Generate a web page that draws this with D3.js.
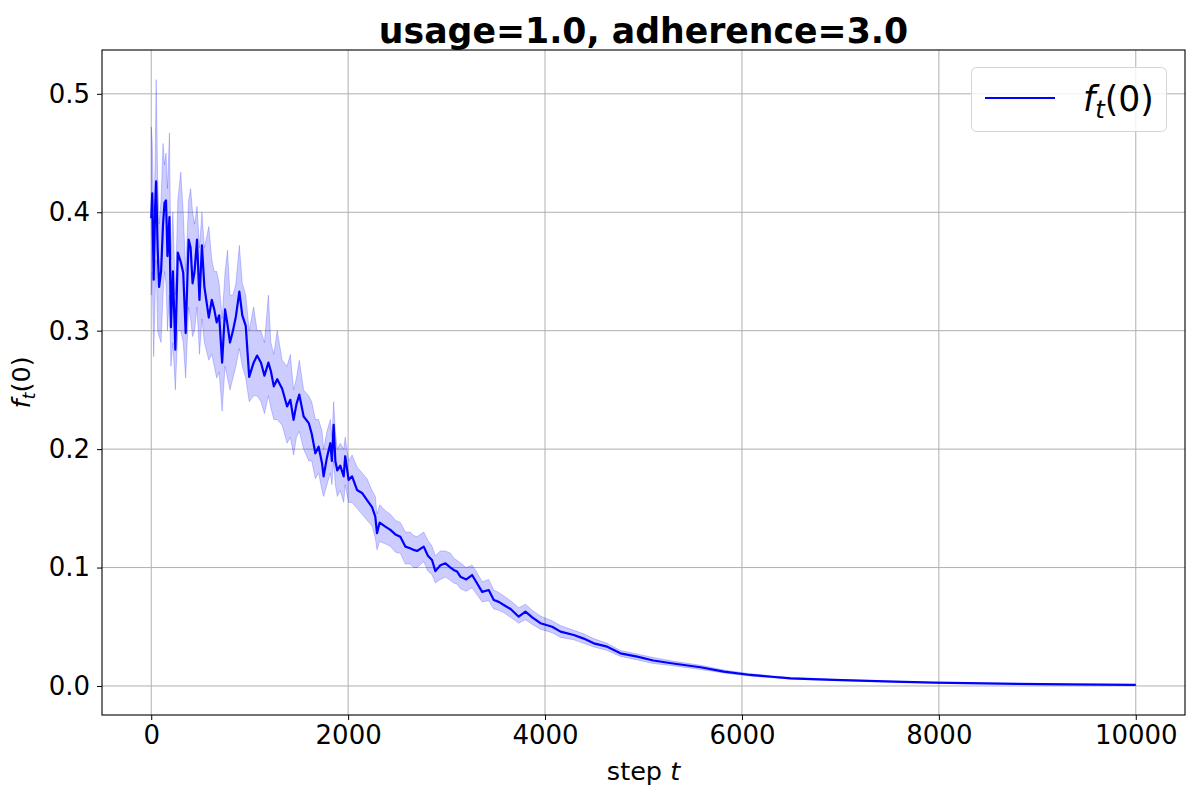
<!DOCTYPE html>
<html><head><meta charset="utf-8">
<script src="https://cdn.jsdelivr.net/npm/d3@7"></script>
<style>body{margin:0;background:#fff}svg{display:block}text{font-family:"DejaVu Sans",sans-serif}</style>
</head><body><svg id="c" width="1200" height="800"></svg>
<script>
const title = "usage=1.0, adherence=3.0";
const xTicks = [0, 2000, 4000, 6000, 8000, 10000];
const yTicks = [0.0, 0.1, 0.2, 0.3, 0.4, 0.5];
const steps = [0,10,25,40,50,65,80,100,120,135,150,165,185,200,220,245,270,300,325,350,380,400,420,440,465,490,515,540,585,615,640,665,690,720,750,775,800,830,860,895,925,960,995,1040,1075,1115,1150,1190,1215,1245,1280,1330,1380,1413,1446,1475,1504,1548,1600,1630,1667,1700,1735,1751,1785,1819,1835,1853,1870,1890,1920,1955,1970,2005,2040,2090,2141,2192,2243,2276,2293,2320,2378,2429,2480,2530,2581,2630,2666,2700,2768,2810,2852,2886,2937,2988,3040,3072,3107,3140,3200,3259,3300,3361,3428,3479,3530,3581,3650,3733,3801,3870,3953,4072,4157,4292,4393,4495,4631,4766,4936,5100,5300,5579,5816,6087,6300,6494,6934,7544,7950,8628,9306,10000];
const meanVals = [0.395,0.416,0.343,0.405,0.426,0.37,0.337,0.35,0.39,0.408,0.41,0.363,0.396,0.303,0.35,0.284,0.366,0.358,0.349,0.298,0.377,0.37,0.34,0.35,0.377,0.326,0.372,0.337,0.311,0.326,0.318,0.307,0.313,0.273,0.318,0.305,0.29,0.30,0.312,0.333,0.313,0.304,0.261,0.273,0.279,0.273,0.262,0.273,0.266,0.253,0.259,0.251,0.236,0.2416,0.2247,0.238,0.246,0.2275,0.222,0.213,0.1965,0.202,0.188,0.177,0.193,0.205,0.19,0.2205,0.19,0.182,0.186,0.177,0.194,0.174,0.177,0.1655,0.163,0.157,0.151,0.143,0.129,0.138,0.1346,0.1318,0.128,0.126,0.1177,0.1163,0.1149,0.114,0.1177,0.110,0.1064,0.097,0.102,0.1036,0.100,0.098,0.0966,0.0923,0.090,0.0937,0.088,0.0795,0.081,0.0726,0.071,0.0684,0.065,0.0585,0.0628,0.058,0.053,0.050,0.0459,0.043,0.040,0.036,0.0332,0.0276,0.0248,0.0215,0.019,0.0158,0.0121,0.0093,0.0078,0.0065,0.0051,0.0037,0.0028,0.002,0.0014,0.001];
const lowVals = [0.33,0.35,0.278,0.33,0.36,0.30,0.295,0.29,0.33,0.35,0.34,0.30,0.33,0.27,0.29,0.25,0.30,0.30,0.29,0.26,0.32,0.31,0.295,0.30,0.32,0.28,0.31,0.29,0.275,0.28,0.27,0.26,0.265,0.232,0.27,0.26,0.25,0.26,0.27,0.285,0.27,0.26,0.24,0.245,0.245,0.24,0.23,0.245,0.235,0.225,0.225,0.22,0.205,0.21,0.195,0.21,0.215,0.20,0.19,0.19,0.175,0.18,0.165,0.16,0.17,0.18,0.17,0.19,0.17,0.16,0.165,0.155,0.17,0.155,0.155,0.15,0.145,0.14,0.135,0.125,0.115,0.122,0.12,0.118,0.113,0.112,0.103,0.103,0.10,0.10,0.105,0.097,0.094,0.087,0.09,0.092,0.089,0.087,0.086,0.082,0.08,0.083,0.078,0.071,0.072,0.065,0.064,0.062,0.058,0.053,0.056,0.052,0.048,0.045,0.041,0.039,0.036,0.033,0.030,0.025,0.022,0.019,0.017,0.014,0.011,0.0083,0.007,0.0058,0.0046,0.0034,0.0026,0.0018,0.0013,0.0009];
const highVals = [0.472,0.46,0.40,0.44,0.512,0.43,0.39,0.41,0.458,0.44,0.45,0.42,0.467,0.36,0.40,0.33,0.41,0.434,0.40,0.35,0.41,0.42,0.40,0.39,0.405,0.37,0.40,0.37,0.388,0.36,0.35,0.35,0.34,0.31,0.35,0.368,0.33,0.33,0.34,0.372,0.34,0.33,0.30,0.32,0.30,0.30,0.29,0.33,0.29,0.28,0.30,0.275,0.27,0.28,0.25,0.26,0.275,0.25,0.245,0.24,0.225,0.225,0.215,0.20,0.215,0.225,0.21,0.24,0.215,0.20,0.205,0.20,0.21,0.19,0.195,0.185,0.18,0.175,0.165,0.16,0.145,0.153,0.148,0.145,0.14,0.138,0.13,0.13,0.127,0.126,0.13,0.123,0.118,0.11,0.114,0.114,0.112,0.108,0.106,0.104,0.10,0.102,0.097,0.088,0.09,0.081,0.079,0.076,0.072,0.066,0.069,0.064,0.059,0.055,0.051,0.047,0.044,0.040,0.036,0.030,0.027,0.024,0.021,0.0175,0.0135,0.0103,0.0086,0.0072,0.0056,0.004,0.003,0.0022,0.0015,0.0011];

const svg = d3.select("#c");
const L = 102, R = 1185, T = 50, B = 715;
const x = d3.scaleLinear().domain([-500, 10500]).range([L, R]);
const y = d3.scaleLinear().domain([-0.0245, 0.537]).range([B, T]);
const data = steps.map((s, i) => ({s, m: meanVals[i], lo: lowVals[i], hi: highVals[i]}));

// grid
const g = svg.append("g");
g.selectAll("line.gx").data(xTicks).join("line")
  .attr("x1", d => x(d)).attr("x2", d => x(d)).attr("y1", T).attr("y2", B)
  .attr("stroke", "#b0b0b0").attr("stroke-width", 1);
g.selectAll("line.gy").data(yTicks).join("line")
  .attr("y1", d => y(d)).attr("y2", d => y(d)).attr("x1", L).attr("x2", R)
  .attr("stroke", "#b0b0b0").attr("stroke-width", 1);

// band
const area = d3.area().x(d => x(d.s)).y0(d => y(d.lo)).y1(d => y(d.hi));
svg.append("path").datum(data).attr("d", area)
  .attr("fill", "rgba(0,0,255,0.2)").attr("stroke", "rgba(0,0,255,0.2)").attr("stroke-width", 1);
// mean
const line = d3.line().x(d => x(d.s)).y(d => y(d.m));
svg.append("path").datum(data).attr("d", line)
  .attr("fill", "none").attr("stroke", "#0000ff").attr("stroke-width", 2.2).attr("stroke-linejoin", "round");

// frame
svg.append("rect").attr("x", L).attr("y", T).attr("width", R - L).attr("height", B - T)
  .attr("fill", "none").attr("stroke", "#000").attr("stroke-width", 1.1);

// axes
const xa = svg.append("g").attr("transform", `translate(0,${B})`)
  .call(d3.axisBottom(x).tickValues(xTicks).tickFormat(d3.format("d")).tickSize(5).tickPadding(6));
const ya = svg.append("g").attr("transform", `translate(${L},0)`)
  .call(d3.axisLeft(y).tickValues(yTicks).tickFormat(d3.format(".1f")).tickSize(5).tickPadding(7));
[xa, ya].forEach(a => {
  a.select(".domain").remove();
  a.selectAll(".tick line").attr("stroke", "#000").attr("stroke-width", 1);
  a.selectAll(".tick text").attr("fill", "#000").style("font-size", "26px").style("font-family", "DejaVu Sans");
});

// title
svg.append("text").attr("x", (L + R) / 2).attr("y", 43).attr("text-anchor", "middle")
  .style("font-size", "34.7px").style("font-weight", "bold").text(title);

// x label
const xl = svg.append("text").attr("x", (L + R) / 2).attr("y", 780).attr("text-anchor", "middle").style("font-size", "25.5px");
xl.append("tspan").text("step ");
xl.append("tspan").style("font-style", "italic").text("t");

// y label
const yl = svg.append("text").attr("transform", `translate(30,${(T + B) / 2}) rotate(-90)`).attr("text-anchor", "middle").style("font-size", "25.5px");
yl.append("tspan").style("font-style", "italic").text("f");
yl.append("tspan").style("font-style", "italic").style("font-size", "18px").attr("dy", 5).text("t");
yl.append("tspan").attr("dy", -5).text("(0)");

// legend
const lg = svg.append("g");
lg.append("rect").attr("x", 971.5).attr("y", 67.5).attr("width", 195).attr("height", 64).attr("rx", 5)
  .attr("fill", "rgba(255,255,255,0.8)").attr("stroke", "#d5d5d5").attr("stroke-width", 1);
lg.append("line").attr("x1", 985).attr("x2", 1055).attr("y1", 98).attr("y2", 98)
  .attr("stroke", "#0000ff").attr("stroke-width", 2.2);
const lt = lg.append("text").attr("x", 1083).attr("y", 111).style("font-size", "34.7px");
lt.append("tspan").style("font-style", "italic").text("f");
lt.append("tspan").style("font-style", "italic").style("font-size", "24.3px").attr("dy", 7).text("t");
lt.append("tspan").attr("dy", -7).text("(0)");
</script></body></html>
